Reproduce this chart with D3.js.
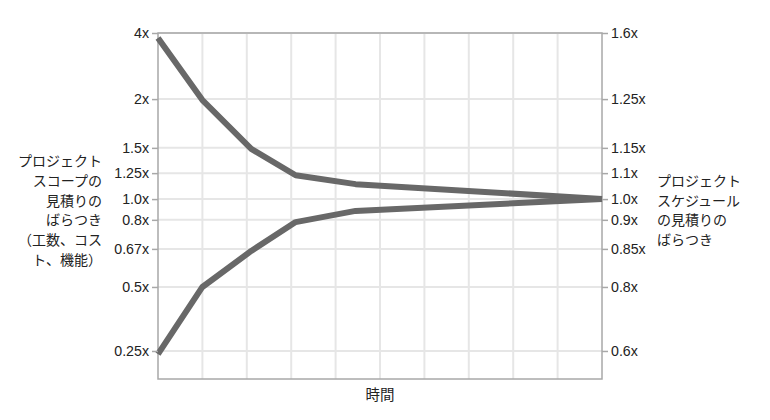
<!DOCTYPE html>
<html>
<head>
<meta charset="utf-8">
<script src="https://cdn.jsdelivr.net/npm/d3@7"></script>
<style>
  html, body { margin: 0; padding: 0; background: #fff; }
  svg { display: block; }
</style>
</head>
<body>
<svg id="chart" width="770" height="420"></svg>
<script>
// ---- data ----
const leftTicks  = [0.25, 0.5, 0.67, 0.8, 1.0, 1.25, 1.5, 2, 4];
const leftLabels = ["0.25x", "0.5x", "0.67x", "0.8x", "1.0x", "1.25x", "1.5x", "2x", "4x"];
const rightTicks  = [0.6, 0.8, 0.85, 0.9, 1.0, 1.1, 1.15, 1.25, 1.6];
const rightLabels = ["0.6x", "0.8x", "0.85x", "0.9x", "1.0x", "1.1x", "1.15x", "1.25x", "1.6x"];
const timePoints = [0, 1, 2.1, 3.1, 4.45, 10];
const upperValues = [3.85, 1.99, 1.49, 1.23, 1.144, 1.0];
const lowerValues = [0.238, 0.5, 0.661, 0.79, 0.886, 1.0];
const leftTitle  = ["プロジェクト", "スコープの", "見積りの", "ばらつき", "（工数、コス", "ト、機能）"];
const rightTitle = ["プロジェクト", "スケジュール", "の見積りの", "ばらつき"];
const xTitle = "時間";

// ---- layout ----
const svg = d3.select("#chart");
const plot = { left: 158, right: 602, top: 33, bottom: 379 };
const H = plot.bottom - plot.top;
// relative vertical placement of each tick (fraction of plot height, from bottom)
const tickFrac = [0.081, 0.266, 0.376, 0.460, 0.520, 0.595, 0.668, 0.809, 1.0];

const x = d3.scaleLinear().domain([0, 10]).range([plot.left, plot.right]);
const y = d3.scaleLinear().domain(leftTicks).range(tickFrac.map(f => plot.bottom - f * H));
const yR = d3.scaleLinear().domain(rightTicks).range(tickFrac.map(f => plot.bottom - f * H));

const numFont = "'Liberation Sans', Arial, Helvetica, sans-serif";
const jpFont = "'Noto Sans CJK JP', 'Noto Sans', sans-serif";

// grid
const grid = svg.append("g");
grid.selectAll("line.v").data(d3.range(1, 10)).join("line")
  .attr("x1", d => x(d)).attr("x2", d => x(d))
  .attr("y1", plot.top).attr("y2", plot.bottom)
  .attr("stroke", "#e6e6e6").attr("stroke-width", 2);
grid.selectAll("line.h").data(leftTicks).join("line")
  .attr("x1", plot.left).attr("x2", plot.right)
  .attr("y1", d => y(d)).attr("y2", d => y(d))
  .attr("stroke", "#e6e6e6").attr("stroke-width", 2);

// frame
svg.append("rect")
  .attr("x", plot.left).attr("y", plot.top)
  .attr("width", plot.right - plot.left).attr("height", H)
  .attr("fill", "none").attr("stroke", "#a8a8a8").attr("stroke-width", 1.5);

// lines
const line = d3.line().x(d => x(d[0])).y(d => y(d[1]));
[upperValues, lowerValues].forEach(vals => {
  svg.append("path")
    .datum(timePoints.map((t, i) => [t, vals[i]]))
    .attr("d", line)
    .attr("fill", "none")
    .attr("stroke", "#686868")
    .attr("stroke-width", 6)
    .attr("stroke-linejoin", "round");
});

// axes
const axL = svg.append("g").attr("transform", `translate(${plot.left},0)`)
  .call(d3.axisLeft(y).tickValues(leftTicks).tickSize(6).tickPadding(3)
    .tickFormat((d, i) => leftLabels[i]));
const axR = svg.append("g").attr("transform", `translate(${plot.right},0)`)
  .call(d3.axisRight(yR).tickValues(rightTicks).tickSize(6).tickPadding(3)
    .tickFormat((d, i) => rightLabels[i]));
[axL, axR].forEach(ax => {
  ax.select(".domain").remove();
  ax.selectAll(".tick line").attr("stroke", "#a8a8a8").attr("stroke-width", 1.5);
  ax.selectAll(".tick text").attr("font-family", numFont).attr("font-size", 14.2).attr("fill", "#222");
});

// titles
const lt = svg.append("text").attr("font-family", jpFont).attr("font-size", 14)
  .attr("fill", "#222").attr("text-anchor", "end");
lt.selectAll("tspan").data(leftTitle).join("tspan")
  .attr("x", 102).attr("y", (d, i) => 161 + i * 19.8).attr("dy", "0.35em").text(d => d);

const rt = svg.append("text").attr("font-family", jpFont).attr("font-size", 14)
  .attr("fill", "#222").attr("text-anchor", "start");
rt.selectAll("tspan").data(rightTitle).join("tspan")
  .attr("x", 657).attr("y", (d, i) => 181.5 + i * 19.4).attr("dy", "0.35em").text(d => d);

svg.append("text").attr("font-family", jpFont).attr("font-size", 14.5)
  .attr("fill", "#222").attr("text-anchor", "middle")
  .attr("x", (plot.left + plot.right) / 2).attr("y", 395).attr("dy", "0.35em")
  .text(xTitle);
</script>
</body>
</html>
